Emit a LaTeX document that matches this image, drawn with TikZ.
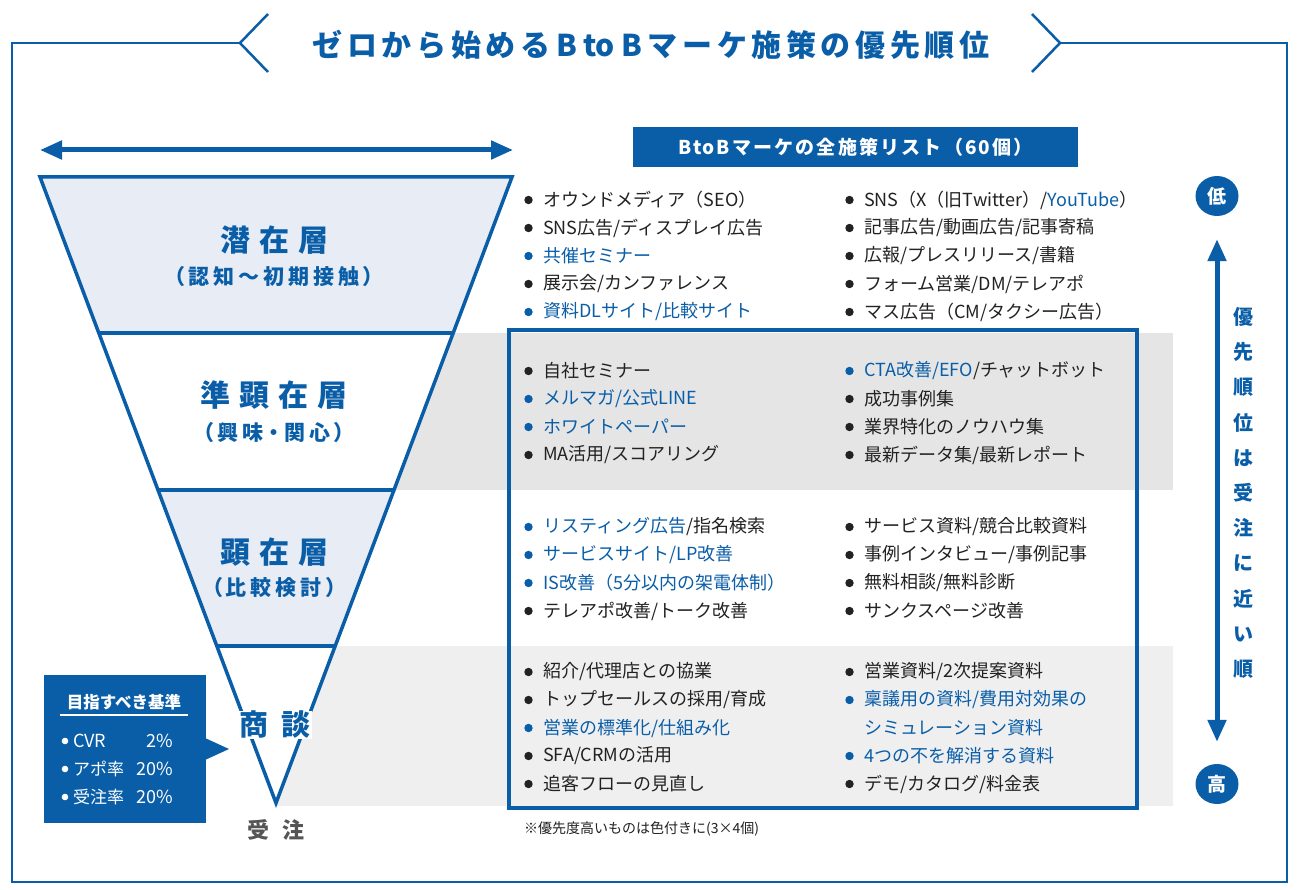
\documentclass[tikz,border=0pt]{standalone}
\usepackage{fontspec}
\setmainfont{Noto Sans CJK JP}
\usetikzlibrary{arrows.meta,calc,shapes.geometric}
\definecolor{mblue}{HTML}{0A5EA8}
\definecolor{lfill}{HTML}{E8ECF5}
\definecolor{gband}{HTML}{E5E5E5}
\definecolor{gbandb}{HTML}{EFEFEF}
\definecolor{txt}{HTML}{222222}
\definecolor{gtxt}{HTML}{555555}
% letter spacing helper
\newcommand\spc[2]{\def\spcamt{#1}\spcloop#2\relax}
\def\spcloop#1{#1\futurelet\spcnexttok\spccheck}
\def\spccheck{\ifx\spcnexttok\relax\expandafter\spcend\else\kern\spcamt\expandafter\spcloop\fi}
\def\spcend\relax{}
\newcommand\li[5]{\node[lt] (#1) at (#2,#3) {#5};\fill[#4] ($(#1.west)+(-14.5,0)$) circle (4.2);}
\newcommand\bl[1]{{\color{mblue}#1}}
\begin{document}
\begin{tikzpicture}[x=1pt,y=-1pt,
  lt/.style={anchor=west,inner sep=0pt,text=txt,font=\fontsize{18}{20}\selectfont},
  lay/.style={text=mblue,font=\fontsize{30}{32}\selectfont\bfseries,inner sep=0pt},
  laysub/.style={text=mblue,font=\fontsize{21}{23}\selectfont\bfseries,inner sep=0pt},
  dbl/.style={line width=5pt,mblue,{Triangle[width=18pt,length=22pt]}-{Triangle[width=18pt,length=22pt]}},
  circ/.style={ellipse,fill=mblue,minimum width=43pt,minimum height=40pt,inner sep=0pt,text=white,font=\fontsize{19}{20}\selectfont\bfseries},
  wt/.style={text=white,inner sep=0pt,font=\fontsize{16}{18}\selectfont}]
\useasboundingbox (0,0) rectangle (1300,890);
\fill[white] (0,0) rectangle (1300,890);

% frame with title chevrons
\draw[mblue,line width=2.5pt,line join=miter] (240,43) -- (12,43) -- (12,882) -- (1287,882) -- (1287,43) -- (1060,43);
\draw[mblue,line width=2.5pt] (268,14) -- (240,43) -- (268,72);
\draw[mblue,line width=2.5pt] (1032,14) -- (1060,43) -- (1032,72);
\node[text=mblue,inner sep=0pt,font=\fontsize{30}{32}\selectfont\bfseries] (title) at (651,45)
  {\spc{4.6pt}{ゼロから始める}\kern6pt B\kern6pt to\kern6pt B\kern6pt\spc{4.6pt}{マーケ施策の優先順位}};

% top double arrow
\coordinate (al) at (40,150);
\coordinate (ar) at (513,150);
\draw[dbl] (al) -- (ar);

% list header
\node[fill=mblue,minimum width=445pt,minimum height=40pt,inner sep=0pt,text=white,
  font=\fontsize{19}{21}\selectfont\bfseries] (hdr) at (855.5,147)
  {B\kern2pt t\kern1pt o\kern2pt B\kern2pt\spc{2.2pt}{マーケの全施策リスト（60個）}};

% gray bands
\fill[gband] (276,333) rectangle (1173,490);
\fill[gbandb] (276,646) rectangle (1173,806);

% funnel
\coordinate (f1) at (40,177);
\coordinate (f2) at (512,177);
\coordinate (f3) at (453.2,333);
\coordinate (f4) at (98.8,333);
\coordinate (f5) at (394,490);
\coordinate (f6) at (158,490);
\coordinate (f7) at (335.2,646);
\coordinate (f8) at (216.8,646);
\coordinate (fa) at (276,803);
\fill[lfill] (f1) -- (f2) -- (f3) -- (f4) -- cycle;
\fill[white] (f4) -- (f3) -- (f5) -- (f6) -- cycle;
\fill[lfill] (f6) -- (f5) -- (f7) -- (f8) -- cycle;
\fill[white] (f8) -- (f7) -- (fa) -- cycle;
\draw[mblue,line width=3.5pt,line join=miter] (f1) -- (f2) -- (fa) -- cycle;
\draw[mblue,line width=3.5pt] (f4) -- (f3) (f6) -- (f5) (f8) -- (f7);

% funnel labels
\node[lay] (l1) at (274,240) {潜\kern9pt 在\kern9pt 層};
\node[laysub] (l1s) at (274,277) {（\kern3pt 認\kern4pt 知\kern4pt 〜\kern4pt 初\kern4pt 期\kern4pt 接\kern4pt 触\kern3pt ）};
\node[lay] (l2) at (274,395) {準\kern9pt 顕\kern9pt 在\kern9pt 層};
\node[laysub] (l2s) at (274,433) {（\kern3pt 興\kern4pt 味・関\kern4pt 心\kern3pt ）};
\node[lay] (l3) at (274,552) {顕\kern9pt 在\kern9pt 層};
\node[laysub] (l3s) at (274,588) {（\kern3pt 比\kern4pt 較\kern4pt 検\kern4pt 討\kern3pt ）};
\node[text=mblue,fill=white,inner xsep=1.5pt,inner ysep=0.5pt,font=\fontsize{29}{31}\selectfont\bfseries] (l4) at (275,725) {商\kern13pt 談};
\node[text=gtxt,inner sep=0pt,font=\fontsize{22}{24}\selectfont\bfseries] (ju) at (276,830) {受\kern14pt 注};

% criteria box
\fill[mblue] (44,675) rectangle (206,823);
\fill[mblue] (205,738) -- (229,749) -- (205,760) -- cycle;
\node[wt,font=\fontsize{16.5}{18}\selectfont\bfseries] (crit) at (124,702) {目指すべき基準};
\draw[white,line width=1.8pt] (60,715) -- (188,715);
\node[wt,anchor=west,font=\fontsize{18}{20}\selectfont] (c1) at (73,741) {CVR};
\node[wt,anchor=east,font=\fontsize{18}{20}\selectfont] (c1v) at (173,741) {2\%};
\node[wt,anchor=west,font=\fontsize{17}{20}\selectfont] (c2) at (73,769) {アポ率};
\node[wt,anchor=east,font=\fontsize{18}{20}\selectfont] (c2v) at (173,769) {20\%};
\node[wt,anchor=west,font=\fontsize{17}{20}\selectfont] (c3) at (73,797) {受注率};
\node[wt,anchor=east,font=\fontsize{18}{20}\selectfont] (c3v) at (173,797) {20\%};
\fill[white] (65,741) circle (3.3);
\fill[white] (65,769) circle (3.3);
\fill[white] (65,797) circle (3.3);

% list items section 1
\li{a1}{543}{200}{txt}{オウンドメディア（SEO）}
\li{a2}{543}{228}{txt}{SNS広告/ディスプレイ広告}
\li{a3}{543}{256}{mblue}{\bl{共催セミナー}}
\li{a4}{543}{284}{txt}{展示会/カンファレンス}
\li{a5}{543}{312}{mblue}{\bl{資料DLサイト/比較サイト}}
\li{b1}{864}{200}{txt}{SNS（X（旧Twitter）/\bl{YouTube}）}
\li{b2}{864}{228}{txt}{記事広告/動画広告/記事寄稿}
\li{b3}{864}{256}{txt}{広報/プレスリリース/書籍}
\li{b4}{864}{284}{txt}{フォーム営業/DM/テレアポ}
\li{b5}{864}{312}{txt}{マス広告（CM/タクシー広告）}

% blue priority box
\draw[mblue,line width=4pt] (509,330) rectangle (1137,808);

% section 2
\li{a6}{543}{371}{txt}{自社セミナー}
\li{a7}{543}{399}{mblue}{\bl{メルマガ/公式LINE}}
\li{a8}{543}{427}{mblue}{\bl{ホワイトペーパー}}
\li{a9}{543}{455}{txt}{MA活用/スコアリング}
\li{b6}{864}{371}{mblue}{\bl{CTA改善/EFO}/チャットボット}
\li{b7}{864}{399}{txt}{成功事例集}
\li{b8}{864}{427}{txt}{業界特化のノウハウ集}
\li{b9}{864}{455}{txt}{最新データ集/最新レポート}

% section 3
\li{a10}{543}{527}{mblue}{\bl{リスティング広告}/指名検索}
\li{a11}{543}{555}{mblue}{\bl{サービスサイト/LP改善}}
\li{a12}{543}{583}{mblue}{\bl{IS改善（5分以内の架電体制）}}
\li{a13}{543}{611}{txt}{テレアポ改善/トーク改善}
\li{b10}{864}{527}{txt}{サービス資料/競合比較資料}
\li{b11}{864}{555}{txt}{事例インタビュー/事例記事}
\li{b12}{864}{583}{txt}{無料相談/無料診断}
\li{b13}{864}{611}{txt}{サンクスページ改善}

% section 4
\li{a14}{543}{672}{txt}{紹介/代理店との協業}
\li{a15}{543}{700}{txt}{トップセールスの採用/育成}
\li{a16}{543}{728}{mblue}{\bl{営業の標準化/仕組み化}}
\li{a17}{543}{756}{txt}{SFA/CRMの活用}
\li{a18}{543}{784}{txt}{追客フローの見直し}
\li{b14}{864}{672}{txt}{営業資料/2次提案資料}
\li{b15}{864}{700}{mblue}{\bl{稟議用の資料/費用対効果の}}
\node[lt] (b15b) at (864,728) {\bl{シミュレーション資料}};
\li{b16}{864}{756}{mblue}{\bl{4つの不を解消する資料}}
\li{b17}{864}{784}{txt}{デモ/カタログ/料金表}

\node[anchor=west,inner sep=0pt,text=txt,font=\fontsize{14}{16}\selectfont] (note) at (524,829) {※優先度高いものは色付きに(3×4個)};

% priority axis
\node[circ] (low) at (1217,196) {低};
\node[circ] (high) at (1217,784) {高};
\draw[dbl,shorten <=23pt,shorten >=22pt] (low.south) -- (high.north);
\node[text=mblue,inner sep=0pt,align=center,font=\fontsize{20}{35.2}\selectfont\bfseries] (axis) at (1243,493)
  {優\\先\\順\\位\\は\\受\\注\\に\\近\\い\\順};
\end{tikzpicture}
\end{document}
